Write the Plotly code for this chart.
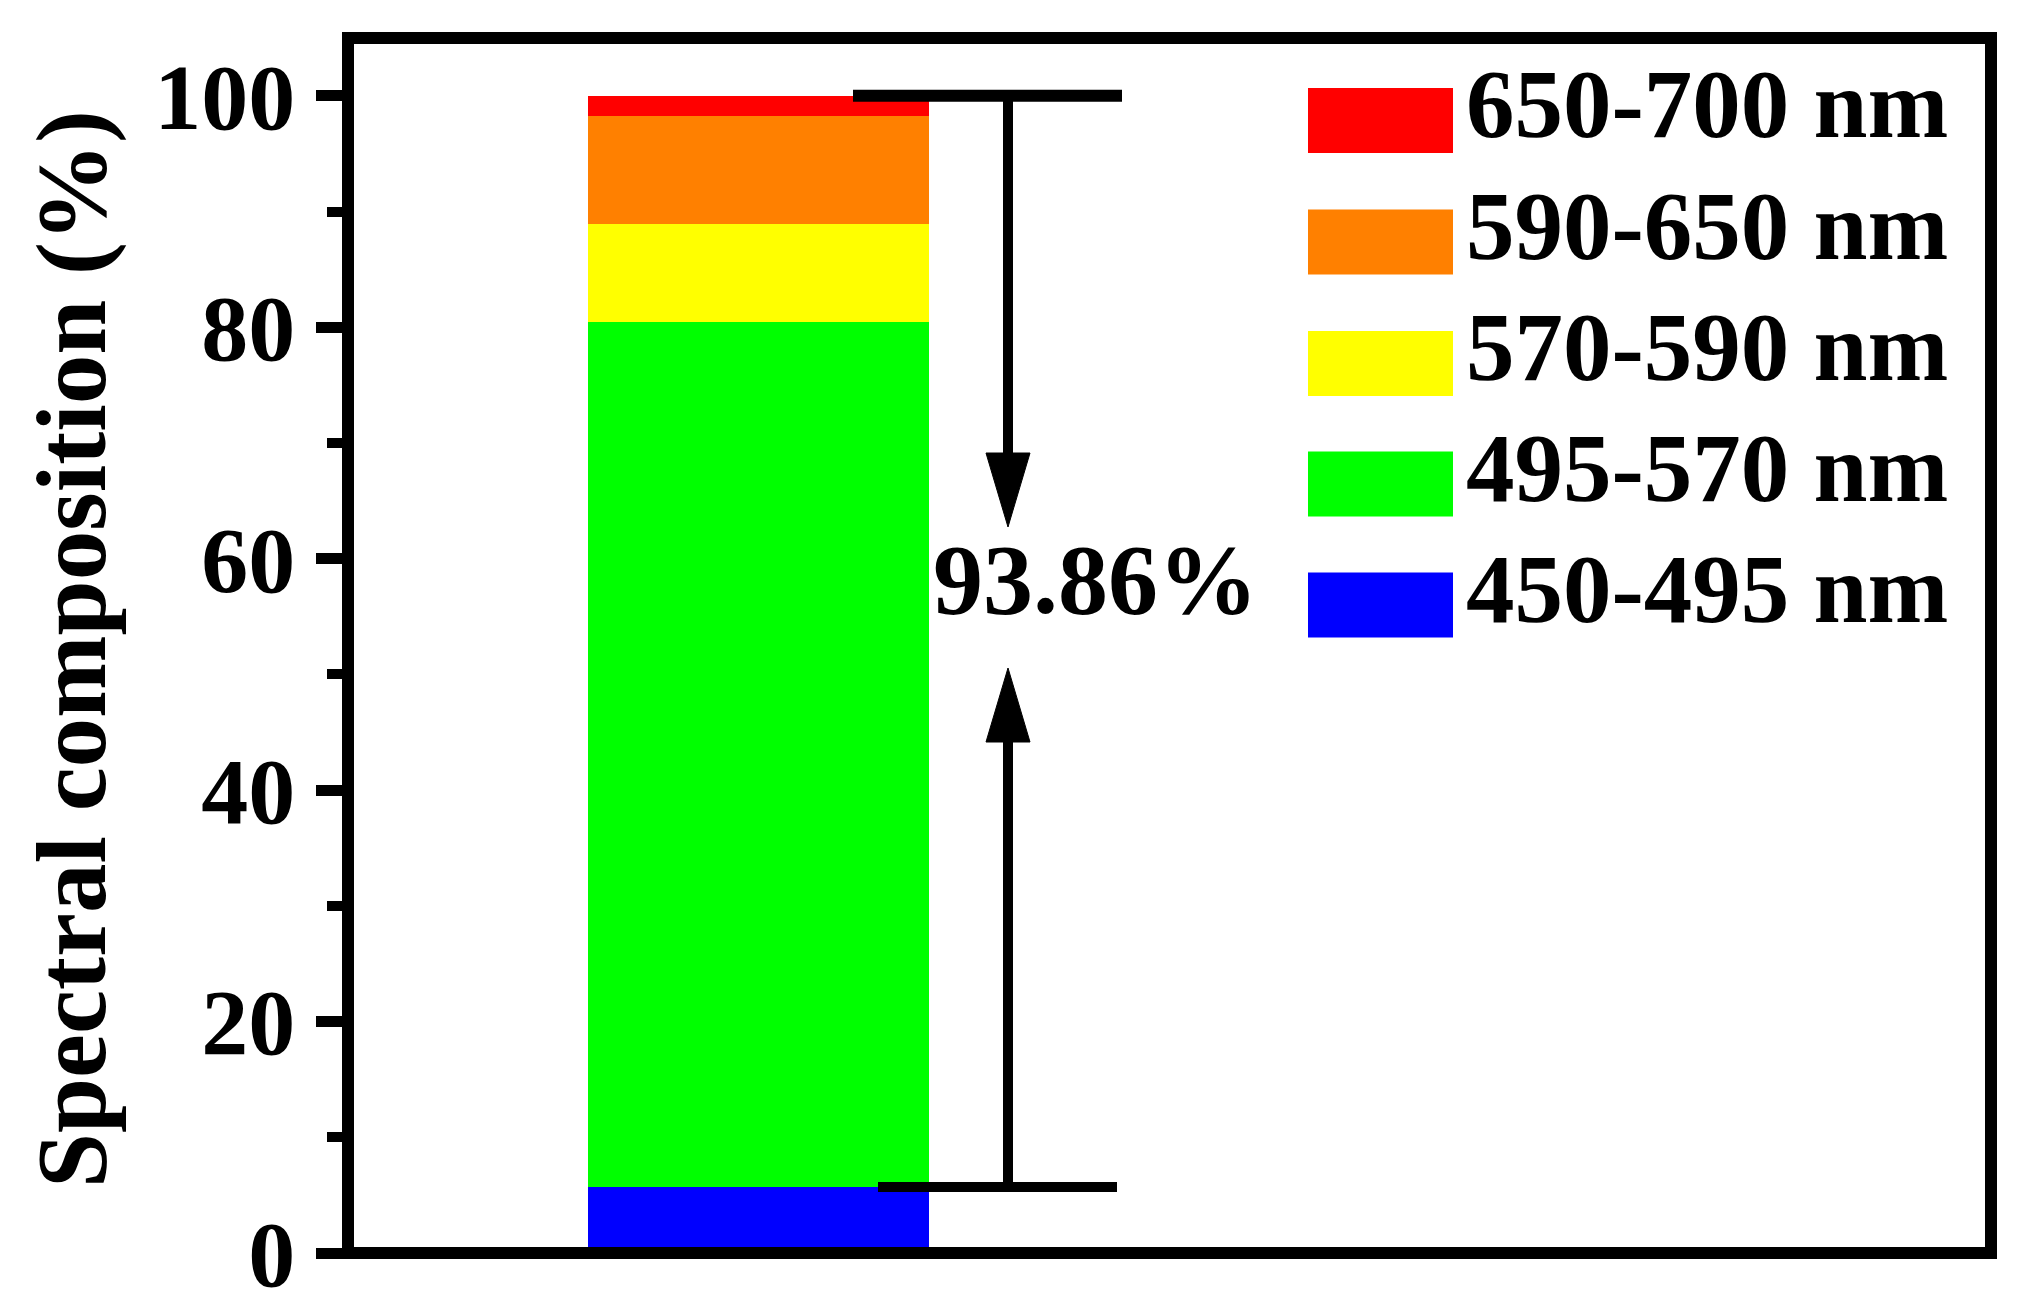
import plotly.graph_objects as go

# ---- data ----
bands = ["450-495 nm", "495-570 nm", "570-590 nm", "590-650 nm", "650-700 nm"]
shares = [5.7, 74.8, 8.4, 9.4, 1.7]
colors = ["#0000FF", "#00FF00", "#FFFF00", "#FF8000", "#FF0000"]
yticks = [0, 20, 40, 60, 80, 100]
label_pct = "93.86%"
y_title = "Spectral composition (%)"

# ---- layout geometry (reference-page pixels) ----
W, H = 2036, 1299
OFF = 8                                     # default page body margin
L, R, T, B = 348, 1991, 38, 1253            # plot area edges on the page
PW, PH = R - L, B - T
FONT = "Liberation Serif"

def px(xp):   # page pixel x -> paper
    return (xp - L) / PW

def py(yp):   # page pixel y -> paper
    return (B - yp) / PH

YMAX = 105.0
def ydata(yp):  # page pixel y -> data y
    return (B - yp) / PH * YMAX

bar_w_px = 341
bar_c_px = 758.5
x_lo = -(bar_c_px - L) / bar_w_px
x_hi = (R - bar_c_px) / bar_w_px

fig = go.Figure()
for name, v, c in zip(bands, shares, colors):
    fig.add_trace(go.Bar(x=[0], y=[v], name=name, width=1,
                         marker=dict(color=c, line=dict(width=0)),
                         showlegend=False))

shapes = []
annotations = []

# frame (centered on plot edges like the original)
shapes.append(dict(type="rect", xref="paper", yref="paper", x0=0, x1=1, y0=0, y1=1,
                   line=dict(color="black", width=12), layer="above"))

total = sum(shares)
bottom_lvl = shares[0]

# bracket lines
shapes.append(dict(type="line", xref="paper", yref="y", x0=px(853), x1=px(1122),
                   y0=total, y1=total, line=dict(color="black", width=12), layer="above"))
shapes.append(dict(type="line", xref="paper", yref="y", x0=px(878), x1=px(1117),
                   y0=bottom_lvl, y1=bottom_lvl, line=dict(color="black", width=10), layer="above"))

xa = px(1008)
hw = 22 / PW
# shafts
shapes.append(dict(type="line", xref="paper", yref="y", x0=xa, x1=xa, y0=total, y1=ydata(460),
                   line=dict(color="black", width=10), layer="above"))
shapes.append(dict(type="line", xref="paper", yref="y", x0=xa, x1=xa, y0=ydata(735), y1=bottom_lvl,
                   line=dict(color="black", width=10), layer="above"))
# arrowheads
def tri(base_y, tip_y):
    return (f"M {xa-hw},{base_y} L {xa+hw},{base_y} L {xa},{tip_y} Z")
shapes.append(dict(type="path", xref="paper", yref="y", path=tri(ydata(453), ydata(527)),
                   fillcolor="black", line=dict(color="black", width=1), layer="above"))
shapes.append(dict(type="path", xref="paper", yref="y", path=tri(ydata(742), ydata(668)),
                   fillcolor="black", line=dict(color="black", width=1), layer="above"))

annotations.append(dict(text=f"<b>{label_pct}</b>", xref="paper", yref="paper",
                        x=px(1095), y=py(579), xanchor="center", yanchor="middle",
                        showarrow=False, font=dict(family=FONT, size=100, color="black")))

# manual legend
row_c = [120.5, 242, 363.5, 484, 605]
for i, (name, c) in enumerate(zip(bands[::-1], colors[::-1])):
    yc = row_c[i]
    shapes.append(dict(type="rect", xref="paper", yref="paper",
                       x0=px(1308), x1=px(1453), y0=py(yc + 32.5), y1=py(yc - 32.5),
                       fillcolor=c, line=dict(width=0), layer="above"))
    annotations.append(dict(text=f"<b>{name}</b>", xref="paper", yref="paper",
                            x=px(1464), y=py(yc - 16), xanchor="left", yanchor="middle",
                            showarrow=False, font=dict(family=FONT, size=97, color="black")))

# y axis title
annotations.append(dict(text=f"<b>{y_title}</b>", xref="paper", yref="paper",
                        x=px(72), y=py(649), xanchor="center", yanchor="middle",
                        textangle=-90, showarrow=False,
                        font=dict(family=FONT, size=99, color="black")))

fig.update_layout(
    width=W, height=H,
    margin=dict(l=L - OFF, r=W - R + OFF, t=T - OFF, b=H - B + OFF, pad=0, autoexpand=False),
    paper_bgcolor="white", plot_bgcolor="white",
    barmode="stack", bargap=0,
    shapes=shapes, annotations=annotations,
    showlegend=False,
    font=dict(family=FONT, color="black"),
)
fig.update_xaxes(range=[x_lo, x_hi], showticklabels=False, ticks="", showgrid=False,
                 zeroline=False, showline=False, fixedrange=True, automargin=False)
fig.update_yaxes(range=[0, YMAX], tickvals=yticks, ticktext=[f"<b>{v}</b>" for v in yticks],
                 ticks="outside", ticklen=31, tickwidth=11, tickcolor="black",
                 minor=dict(tickvals=[10, 30, 50, 70, 90], ticks="outside", ticklen=20,
                            tickwidth=10, tickcolor="black"),
                 tickfont=dict(family=FONT, size=94, color="black"),
                 ticklabeloverflow="allow", automargin=False,
                 showgrid=False, zeroline=False, showline=False, ticklabelstandoff=2)

fig.write_html("out.html", config={"displayModeBar": False})
